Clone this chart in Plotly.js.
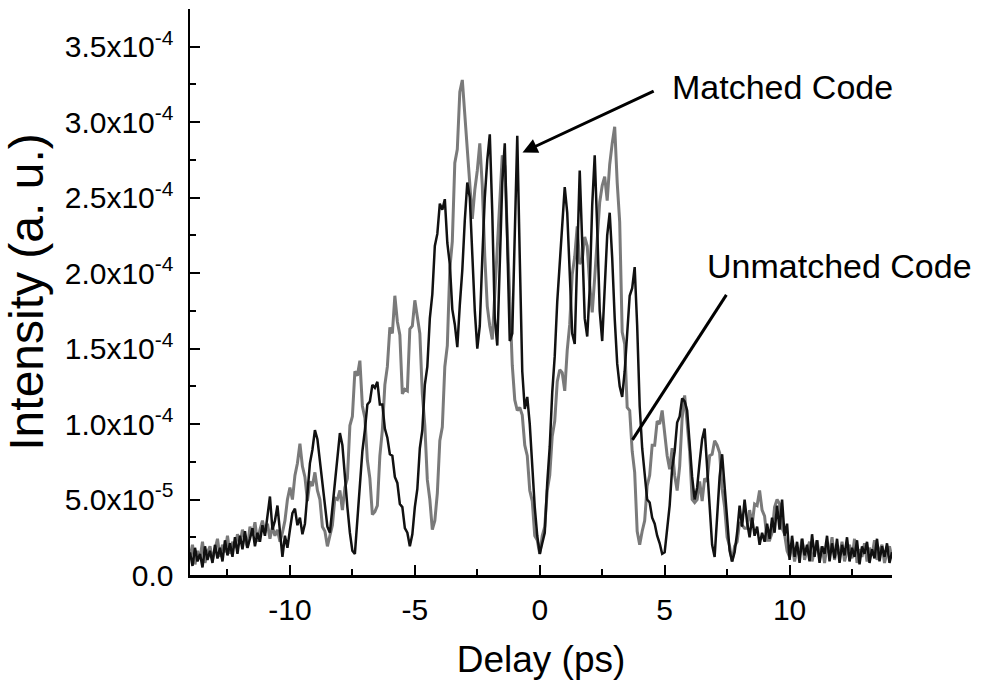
<!DOCTYPE html>
<html>
<head>
<meta charset="utf-8">
<script src="https://cdn.plot.ly/plotly-3.0.1.min.js"></script>
<style>
  html, body { margin: 0; padding: 0; background: #fff; }
  #chart { width: 982px; height: 690px; }
</style>
</head>
<body>
<div id="chart"></div>
<script>
// Sampling of the delay axis (ps): first sample and step
const delayStart = -14.0;
const delayStep = 0.1;

// Intensity in units of 1e-5 (a. u.), sampled every 0.1 ps from -14.0 to 14.1 ps
const matchedCode = [
  1.5,0.6,1.8,0.9,1.4,0.5,1.9,1.0,1.6,0.8,
  2.0,1.1,1.8,0.9,2.3,1.3,2.1,1.2,2.5,1.4,
  2.6,1.7,2.9,1.8,2.4,3.1,1.9,2.8,2.2,3.3,
  2.6,3.8,5.2,3.0,3.6,4.6,3.1,1.2,2.6,1.8,
  3.0,4.1,4.4,3.3,3.8,2.7,3.4,5.6,7.4,8.3,
  9.6,9.0,7.6,6.0,4.6,3.2,2.8,4.5,6.5,8.2,
  9.4,8.6,6.4,4.5,2.8,1.6,1.4,3.6,6.0,8.2,
  9.6,11.3,11.5,12.6,12.4,12.8,11.3,11.3,9.7,9.1,
  8.0,7.9,6.5,6.1,4.7,4.5,3.1,2.8,1.9,2.7,
  4.5,5.7,8.4,9.6,12.6,13.8,17.0,18.6,21.8,22.6,
  24.6,24.2,24.9,22.0,20.6,17.6,16.6,15.1,17.9,20.2,
  23.5,26.0,25.0,21.0,17.5,15.0,16.5,21.0,25.0,27.5,
  29.2,24.0,17.0,15.2,20.0,26.0,28.6,22.0,15.5,16.0,
  22.5,29.1,21.0,13.5,11.0,11.8,10.0,7.0,4.5,2.6,
  1.4,2.1,2.8,6.1,8.5,12.1,14.5,18.1,20.5,23.6,
  25.7,24.0,19.5,16.0,15.3,21.0,26.8,22.0,17.0,15.8,
  19.0,24.5,27.8,23.0,17.5,15.5,19.0,22.5,24.0,21.0,
  17.0,14.0,12.5,11.8,13.5,16.0,18.5,19.0,20.4,16.5,
  11.2,8.4,6.8,5.0,4.8,3.8,3.4,2.6,2.1,1.4,
  1.5,3.0,4.6,7.1,8.2,10.1,10.5,11.7,11.5,10.9,
  8.6,6.5,5.0,5.8,7.5,9.0,9.7,7.0,4.2,2.0,
  1.2,3.8,6.5,8.0,6.0,3.4,1.6,0.9,1.5,2.8,
  4.6,3.2,5.0,3.5,2.5,3.8,2.6,3.2,2.0,2.8,
  2.2,3.4,2.4,3.8,2.8,4.6,3.0,5.0,2.6,3.4,
  1.0,2.6,1.2,2.2,0.8,2.4,1.3,2.0,0.9,2.7,
  1.2,2.3,0.8,1.9,1.4,2.6,0.9,2.1,1.1,2.4,
  0.8,2.0,1.3,2.5,0.9,1.8,1.2,2.3,0.7,1.9,
  1.4,2.2,0.8,1.7,1.1,2.4,0.9,1.9,1.2,2.1,0.8,1.5
];

const unmatchedCode = [
  1.2,2.0,0.7,1.6,1.1,2.2,0.8,1.5,1.9,1.0,
  1.7,2.4,1.2,2.0,1.5,2.6,1.4,2.2,1.8,2.7,
  2.1,3.0,2.4,1.8,3.2,2.6,3.5,2.2,3.0,3.6,
  2.8,3.4,2.4,3.2,2.6,3.0,2.2,2.8,3.6,5.0,
  5.8,5.0,6.6,7.4,8.7,7.2,6.5,4.9,6.2,5.9,
  6.8,5.6,5.0,3.2,2.9,1.9,2.6,3.3,5.1,5.0,
  5.6,4.3,5.8,6.4,9.9,10.5,13.5,13.2,14.2,11.2,
  10.4,7.6,6.4,4.0,4.2,4.6,7.9,9.6,12.6,13.8,
  16.4,16.0,18.5,16.8,15.9,12.0,12.3,12.2,16.3,16.5,
  18.2,17.0,16.0,12.0,9.9,6.3,5.0,3.0,3.6,5.4,
  8.9,9.8,13.8,15.2,20.3,22.1,27.3,28.2,32.0,32.8,
  30.4,28.6,26.2,23.6,25.5,26.8,28.6,25.8,21.1,17.8,
  16.5,15.6,18.6,21.8,25.5,27.8,27.1,22.9,18.5,13.9,
  11.6,10.9,11.1,10.6,8.6,7.9,5.6,4.9,2.6,2.3,
  1.4,2.6,3.2,5.6,6.6,9.2,10.2,12.8,13.6,13.4,
  12.2,14.9,16.6,19.9,21.1,23.1,20.6,20.9,22.4,21.8,
  19.2,17.4,19.7,22.4,24.7,25.8,26.4,24.8,27.2,28.6,
  29.7,26.0,23.4,16.1,15.3,11.1,10.9,8.2,6.8,2.9,
  2.0,2.9,3.6,5.9,6.6,8.6,8.6,10.2,10.0,10.9,
  9.2,7.9,7.0,8.4,6.6,5.6,7.2,10.4,11.9,10.0,
  8.2,5.0,4.8,5.0,6.2,4.9,6.4,6.2,7.9,8.0,
  8.9,8.6,8.1,5.7,4.5,2.5,1.9,0.9,1.9,2.2,
  3.5,3.3,3.1,3.1,4.3,3.3,4.7,4.6,5.6,4.3,
  3.9,2.3,2.3,2.8,4.5,5.0,4.7,3.1,2.7,1.6,
  1.2,2.1,0.9,1.8,1.3,2.4,1.0,1.7,2.2,0.9,
  1.6,2.3,1.1,1.9,0.8,2.0,1.4,2.5,1.0,1.8,
  1.3,2.2,0.9,1.6,2.0,1.1,2.4,0.8,1.7,1.2,
  2.1,0.9,1.8,1.3,2.3,1.0,1.6,2.0,0.8,1.5,1.9,1.1
];
const intensityUnit = 1e-5;

// Axis ticks
const xTickVals = [-10, -5, 0, 5, 10];
const xTickText = ['-10', '-5', '0', '5', '10'];
const xMinorVals = [-12.5, -7.5, -2.5, 2.5, 7.5, 12.5];
const yTickVals = [0, 5e-5, 1e-4, 1.5e-4, 2e-4, 2.5e-4, 3e-4, 3.5e-4];
const yTickText = ['0.0', '5.0x10<sup>-5</sup>', '1.0x10<sup>-4</sup>', '1.5x10<sup>-4</sup>',
  '2.0x10<sup>-4</sup>', '2.5x10<sup>-4</sup>', '3.0x10<sup>-4</sup>', '3.5x10<sup>-4</sup>'];
const yMinorVals = [2.5e-5, 7.5e-5, 1.25e-4, 1.75e-4, 2.25e-4, 2.75e-4, 3.25e-4, 3.75e-4];

// Labels
const labelMatched = 'Matched Code';
const labelUnmatched = 'Unmatched Code';

const FONT = 'Liberation Sans, Arial, Helvetica, sans-serif';

const traces = [
  {
    type: 'scatter', mode: 'lines', name: labelUnmatched,
    x0: delayStart, dx: delayStep,
    y: unmatchedCode.map(v => v * intensityUnit),
    line: { color: '#7a7a7a', width: 3 }
  },
  {
    type: 'scatter', mode: 'lines', name: labelMatched,
    x0: delayStart, dx: delayStep,
    y: matchedCode.map(v => v * intensityUnit),
    line: { color: '#111111', width: 2.5 }
  }
];

const layout = {
  width: 982, height: 690,
  margin: { l: 190, r: 90, t: 9, b: 115 },
  paper_bgcolor: '#ffffff', plot_bgcolor: '#ffffff',
  showlegend: false,
  font: { family: FONT, color: '#000' },
  xaxis: {
    range: [-14, 14.1],
    showline: true, linecolor: '#000', linewidth: 2.5,
    showgrid: false, zeroline: false,
    ticks: 'inside', ticklen: 10, tickwidth: 2, tickcolor: '#000',
    tickmode: 'array', tickvals: xTickVals, ticktext: xTickText,
    minor: { ticks: 'inside', ticklen: 6, tickwidth: 2, tickcolor: '#000', tickmode: 'array', tickvals: xMinorVals, showgrid: false },
    tickfont: { size: 30, family: FONT },
    ticklabelstandoff: 6,
    title: { text: 'Delay (ps)', font: { size: 37, family: FONT }, standoff: 22 }
  },
  yaxis: {
    range: [0, 3.75e-4],
    showline: true, linecolor: '#000', linewidth: 2.5,
    showgrid: false, zeroline: false,
    ticks: 'inside', ticklen: 10, tickwidth: 2, tickcolor: '#000',
    tickmode: 'array', tickvals: yTickVals, ticktext: yTickText,
    minor: { ticks: 'inside', ticklen: 6, tickwidth: 2, tickcolor: '#000', tickmode: 'array', tickvals: yMinorVals, showgrid: false },
    tickfont: { size: 30, family: FONT },
    ticklabelstandoff: 8,
    title: { text: 'Intensity (a. u.)', font: { size: 48, family: FONT }, standoff: 8 }
  },
  annotations: [
    {
      x: -0.69, y: 2.8e-4, xref: 'x', yref: 'y',
      ax: 4.62, ay: 3.21e-4, axref: 'x', ayref: 'y',
      showarrow: true, arrowhead: 2, arrowsize: 1, arrowwidth: 3, arrowcolor: '#000',
      text: ''
    },
    {
      x: 5.23, y: 3.23e-4, xref: 'x', yref: 'y', xanchor: 'left', yanchor: 'middle',
      text: labelMatched, showarrow: false, font: { size: 34, family: FONT, color: '#000' }
    },
    {
      x: 6.63, y: 2.05e-4, xref: 'x', yref: 'y', xanchor: 'left', yanchor: 'middle',
      text: labelUnmatched, showarrow: false, font: { size: 34, family: FONT, color: '#000' }
    }
  ],
  shapes: [
    {
      type: 'line', xref: 'x', yref: 'y',
      x0: 7.47, y0: 1.856e-4, x1: 3.71, y1: 0.895e-4,
      line: { color: '#000', width: 3 }
    }
  ]
};

Plotly.newPlot('chart', traces, layout, { displayModeBar: false, staticPlot: true });
</script>
</body>
</html>
